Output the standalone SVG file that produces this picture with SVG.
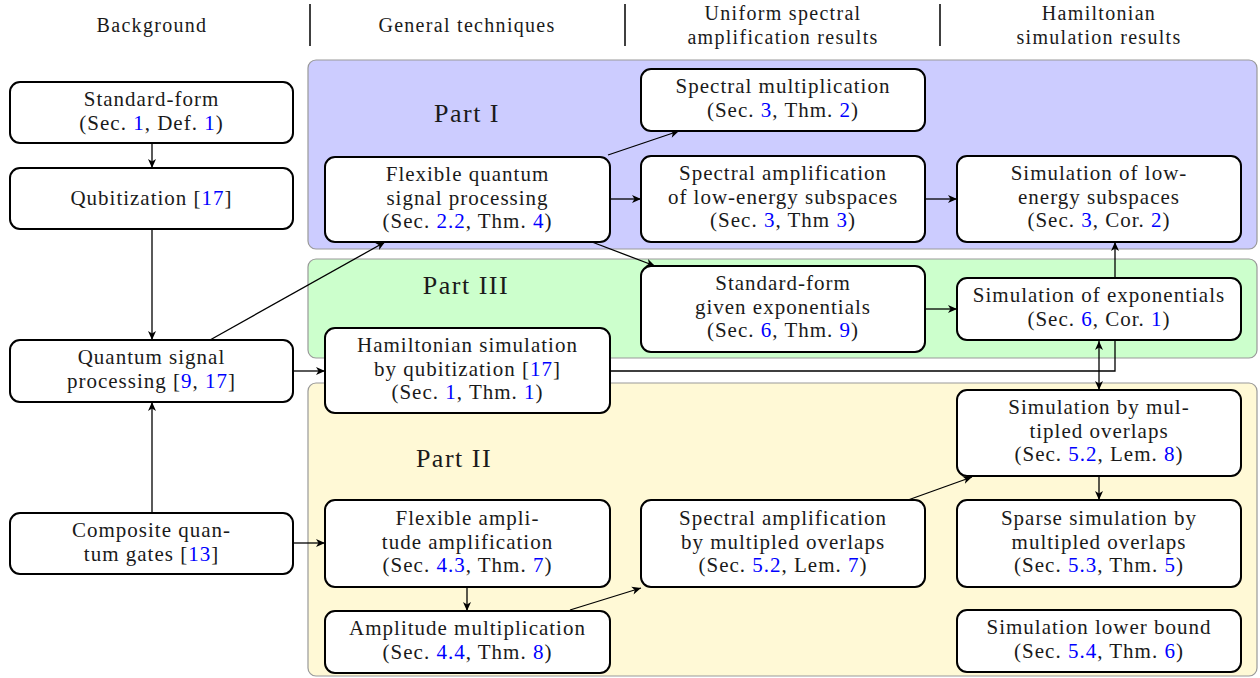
<svg xmlns="http://www.w3.org/2000/svg" width="1260" height="678" viewBox="0 0 1260 678" font-family="'Liberation Serif', 'Times New Roman', Tinos, 'DejaVu Serif', 'Noto Serif', serif">
<defs>
<marker id="ah" markerUnits="userSpaceOnUse" markerWidth="12" markerHeight="10" refX="10" refY="5" orient="auto-start-reverse" viewBox="0 0 12 10">
<path d="M1,1 L10,5 L1,9 L3.5,5 Z" fill="#000"/>
</marker>
</defs>
<style>
text{font-family:'Liberation Serif','Times New Roman',Tinos,'DejaVu Serif','Noto Serif',serif;font-size:21px;letter-spacing:1px;fill:#1a1a1a;text-anchor:middle}
.hdr{font-size:20px;letter-spacing:1.3px}
.part{font-size:26px;letter-spacing:1.5px}
.b{fill:#0000ff}
.node rect{fill:#fff;stroke:#000;stroke-width:2}
.panel{stroke:#999;stroke-width:1.2}
.sep{stroke:#000;stroke-width:1.5}
#connectors path,#connectors line{stroke:#000;stroke-width:1.3;fill:none}
.arr{marker-end:url(#ah)}
.arr2{marker-start:url(#ah);marker-end:url(#ah)}
</style>
<rect width="1260" height="678" fill="#fff"/>
<g id="headers">
<text class="hdr" x="152" y="32">Background</text>
<line class="sep" x1="310" y1="4" x2="310" y2="46"/>
<text class="hdr" x="467" y="32">General techniques</text>
<line class="sep" x1="625" y1="4" x2="625" y2="46"/>
<text class="hdr" x="783" y="20">Uniform spectral</text>
<text class="hdr" x="783" y="44">amplification results</text>
<line class="sep" x1="940" y1="4" x2="940" y2="46"/>
<text class="hdr" x="1099" y="20">Hamiltonian</text>
<text class="hdr" x="1099" y="44">simulation results</text>
</g>
<g id="panels">
<rect class="panel" x="308" y="60" width="949" height="189" rx="8" fill="#ccccff"/>
<rect class="panel" x="308" y="259" width="949" height="99" rx="8" fill="#ccffcc"/>
<rect class="panel" x="308" y="383" width="949" height="293" rx="8" fill="#fff9d6"/>
<text class="part" x="467" y="122">Part I</text>
<text class="part" x="466" y="294">Part III</text>
<text class="part" x="454" y="467">Part II</text>
</g>
<g id="connectors">
<line class="arr" x1="152" y1="143" x2="152" y2="168"/>
<line class="arr" x1="152" y1="229" x2="152" y2="340"/>
<line class="arr" x1="152" y1="513" x2="152" y2="402"/>
<line class="arr" x1="210" y1="340" x2="385" y2="242"/>
<line class="arr" x1="293" y1="371" x2="325" y2="371"/>
<line class="arr" x1="293" y1="543" x2="325" y2="543"/>
<line class="arr" x1="608" y1="155" x2="679" y2="131"/>
<line class="arr" x1="610" y1="199" x2="641" y2="199"/>
<line class="arr" x1="592" y1="242" x2="655" y2="266"/>
<line class="arr" x1="925" y1="199" x2="957" y2="199"/>
<line class="arr" x1="925" y1="309" x2="957" y2="309"/>
<line class="arr" x1="1115" y1="278" x2="1115" y2="242"/>
<path d="M610,371 H1115 V340"/>
<line class="arr2" x1="1099" y1="341" x2="1099" y2="390"/>
<line class="arr" x1="467" y1="587" x2="467" y2="611"/>
<line class="arr" x1="570" y1="610" x2="641" y2="588"/>
<line class="arr" x1="908" y1="500" x2="972" y2="477"/>
<line class="arr" x1="1099" y1="476" x2="1099" y2="500"/>
</g>
<g id="n-standard-form" class="node">
<rect x="10" y="82" width="283" height="61" rx="10"/>
<text x="151.5" y="106">Standard-form</text>
<text x="151.5" y="130">(Sec. <tspan class="b">1</tspan>, Def. <tspan class="b">1</tspan>)</text>
</g>
<g id="n-qubitization" class="node">
<rect x="10" y="168" width="283" height="61" rx="10"/>
<text x="151.5" y="205">Qubitization [<tspan class="b">17</tspan>]</text>
</g>
<g id="n-qsp" class="node">
<rect x="10" y="340" width="283" height="62" rx="10"/>
<text x="151.5" y="364">Quantum signal</text>
<text x="151.5" y="388">processing [<tspan class="b">9</tspan>, <tspan class="b">17</tspan>]</text>
</g>
<g id="n-composite" class="node">
<rect x="10" y="513" width="283" height="61" rx="10"/>
<text x="151.5" y="537">Composite quan-</text>
<text x="151.5" y="561">tum gates [<tspan class="b">13</tspan>]</text>
</g>
<g id="n-flex-qsp" class="node">
<rect x="325" y="157" width="285" height="85" rx="10"/>
<text x="467.5" y="181">Flexible quantum</text>
<text x="467.5" y="204.5">signal processing</text>
<text x="467.5" y="228">(Sec. <tspan class="b">2.2</tspan>, Thm. <tspan class="b">4</tspan>)</text>
</g>
<g id="n-ham-sim" class="node">
<rect x="325" y="328" width="285" height="85" rx="10"/>
<text x="467.5" y="352">Hamiltonian simulation</text>
<text x="467.5" y="375.5">by qubitization [<tspan class="b">17</tspan>]</text>
<text x="467.5" y="399">(Sec. <tspan class="b">1</tspan>, Thm. <tspan class="b">1</tspan>)</text>
</g>
<g id="n-flex-aa" class="node">
<rect x="325" y="500" width="285" height="87" rx="10"/>
<text x="467.5" y="525">Flexible ampli-</text>
<text x="467.5" y="548.5">tude amplification</text>
<text x="467.5" y="572">(Sec. <tspan class="b">4.3</tspan>, Thm. <tspan class="b">7</tspan>)</text>
</g>
<g id="n-amp-mult" class="node">
<rect x="325" y="611" width="285" height="62" rx="10"/>
<text x="467.5" y="635">Amplitude multiplication</text>
<text x="467.5" y="659">(Sec. <tspan class="b">4.4</tspan>, Thm. <tspan class="b">8</tspan>)</text>
</g>
<g id="n-spec-mult" class="node">
<rect x="641" y="69" width="284" height="62" rx="10"/>
<text x="783" y="93">Spectral multiplication</text>
<text x="783" y="117">(Sec. <tspan class="b">3</tspan>, Thm. <tspan class="b">2</tspan>)</text>
</g>
<g id="n-spec-amp-low" class="node">
<rect x="641" y="156" width="284" height="86" rx="10"/>
<text x="783" y="180">Spectral amplification</text>
<text x="783" y="203.5">of low-energy subspaces</text>
<text x="783" y="227">(Sec. <tspan class="b">3</tspan>, Thm <tspan class="b">3</tspan>)</text>
</g>
<g id="n-std-exp" class="node">
<rect x="641" y="266" width="284" height="86" rx="10"/>
<text x="783" y="290">Standard-form</text>
<text x="783" y="313.5">given exponentials</text>
<text x="783" y="337">(Sec. <tspan class="b">6</tspan>, Thm. <tspan class="b">9</tspan>)</text>
</g>
<g id="n-spec-amp-mo" class="node">
<rect x="641" y="500" width="284" height="87" rx="10"/>
<text x="783" y="525">Spectral amplification</text>
<text x="783" y="548.5">by multipled overlaps</text>
<text x="783" y="572">(Sec. <tspan class="b">5.2</tspan>, Lem. <tspan class="b">7</tspan>)</text>
</g>
<g id="n-sim-low" class="node">
<rect x="957" y="156" width="284" height="86" rx="10"/>
<text x="1099" y="180">Simulation of low-</text>
<text x="1099" y="203.5">energy subspaces</text>
<text x="1099" y="227">(Sec. <tspan class="b">3</tspan>, Cor. <tspan class="b">2</tspan>)</text>
</g>
<g id="n-sim-exp" class="node">
<rect x="957" y="278" width="284" height="62" rx="10"/>
<text x="1099" y="302">Simulation of exponentials</text>
<text x="1099" y="326">(Sec. <tspan class="b">6</tspan>, Cor. <tspan class="b">1</tspan>)</text>
</g>
<g id="n-sim-mo" class="node">
<rect x="957" y="390" width="284" height="86" rx="10"/>
<text x="1099" y="414">Simulation by mul-</text>
<text x="1099" y="437.5">tipled overlaps</text>
<text x="1099" y="461">(Sec. <tspan class="b">5.2</tspan>, Lem. <tspan class="b">8</tspan>)</text>
</g>
<g id="n-sparse" class="node">
<rect x="957" y="500" width="284" height="87" rx="10"/>
<text x="1099" y="525">Sparse simulation by</text>
<text x="1099" y="548.5">multipled overlaps</text>
<text x="1099" y="572">(Sec. <tspan class="b">5.3</tspan>, Thm. <tspan class="b">5</tspan>)</text>
</g>
<g id="n-lower" class="node">
<rect x="957" y="610" width="284" height="62" rx="10"/>
<text x="1099" y="634">Simulation lower bound</text>
<text x="1099" y="658">(Sec. <tspan class="b">5.4</tspan>, Thm. <tspan class="b">6</tspan>)</text>
</g>
</svg>
